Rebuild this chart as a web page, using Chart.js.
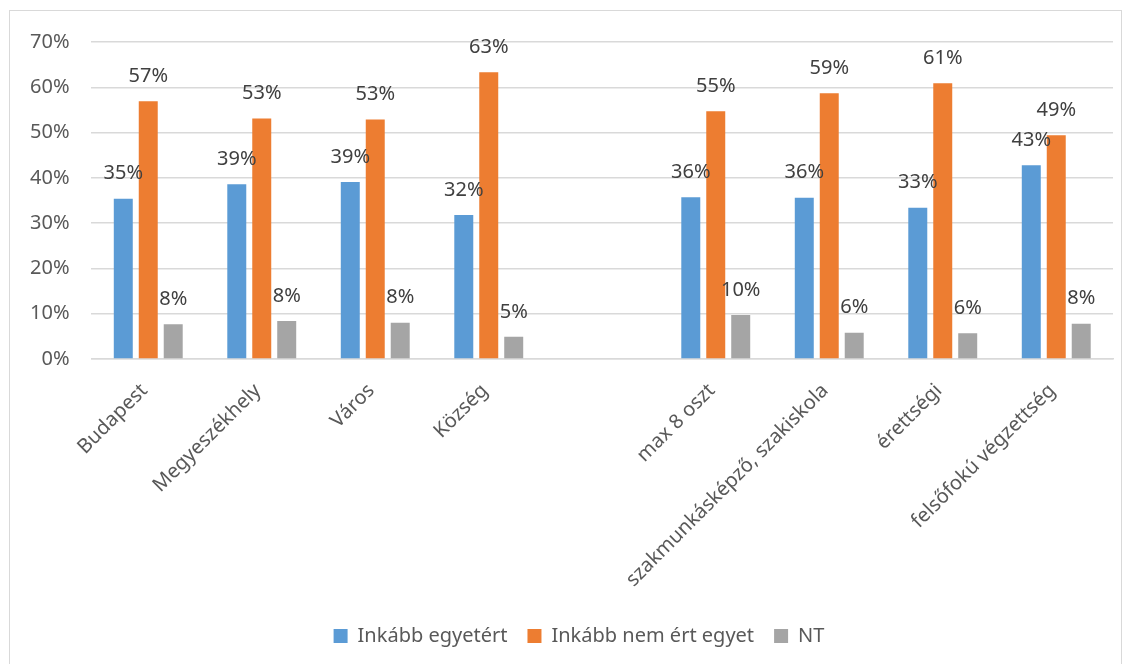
<!DOCTYPE html>
<html>
<head>
<meta charset="utf-8">
<script src="https://cdn.jsdelivr.net/npm/chart.js@4"></script>
<style>
html,body{margin:0;padding:0;background:#fff;}
#wrap{position:relative;width:1130px;height:664px;}
canvas{display:block;}
</style>
</head>
<body>
<div id="wrap"><canvas id="c" width="1130" height="664"></canvas></div>
<script>
const categories = ['Budapest','Megyeszékhely','Város','Község','','max 8 oszt','szakmunkásképző, szakiskola','érettségi','felsőfokú végzettség'];
const seriesNames = ['Inkább egyetért','Inkább nem ért egyet','NT'];
const agree    = [35.4, 38.6, 39.1, 31.8, null, 35.7, 35.6, 33.4, 42.8];
const disagree = [56.9, 53.1, 52.9, 63.3, null, 54.7, 58.7, 60.9, 49.4];
const nt       = [7.7, 8.4, 8.0, 4.9, null, 9.7, 5.8, 5.7, 7.8];
const yTicks = [0,10,20,30,40,50,60,70];
const colors = ['#5b9bd5','#ed7d31','#a5a5a5'];

const FONT = "'Noto Sans', sans-serif";
const LEGEND_CENTER_X = 579;

const framePlugin = {
  id:'frame',
  beforeDraw(chart){
    const ctx = chart.ctx;
    ctx.save();
    ctx.fillStyle='#fff';
    ctx.fillRect(0,0,chart.width,chart.height);
    ctx.strokeStyle='#d9d9d9';
    ctx.lineWidth=1;
    ctx.strokeRect(9.5,10.5,1112,660);
    ctx.restore();
  },
  afterLayout(chart){
    const l = chart.legend;
    if (l){ const d = LEGEND_CENTER_X - (l.left + l.right)/2; l.left += d; l.right += d; }
  }
};

const labelPlugin = {
  id:'vlabels',
  afterDatasetsDraw(chart){
    const ctx = chart.ctx;
    ctx.save();
    ctx.font = "20px " + FONT;
    ctx.fillStyle = '#404040';
    ctx.textAlign = 'center';
    ctx.textBaseline = 'middle';
    chart.data.datasets.forEach((ds, di) => {
      const meta = chart.getDatasetMeta(di);
      meta.data.forEach((el, i) => {
        const v = ds.data[i];
        if (v === null || v === undefined) return;
        ctx.fillText(Math.round(v) + '%', el.x, el.y - 25);
      });
    });
    ctx.restore();
  }
};

new Chart(document.getElementById('c'), {
  type:'bar',
  data:{
    labels: categories,
    datasets:[
      {label:seriesNames[0], data:agree, backgroundColor:colors[0]},
      {label:seriesNames[1], data:disagree, backgroundColor:colors[1]},
      {label:seriesNames[2], data:nt, backgroundColor:colors[2]}
    ]
  },
  options:{
    responsive:false,
    animation:false,
    events:[],
    categoryPercentage:0.66,
    barPercentage:0.76,
    layout:{padding:{top:42,left:8,right:17,bottom:8}},
    scales:{
      x:{
        grid:{display:false},
        border:{display:true,color:'#d9d9d9',width:1.5},
        ticks:{
          font:{family:FONT,size:20},
          color:'#595959',
          minRotation:45,maxRotation:45,
          autoSkip:false,
          padding:12,
          labelOffset:-4
        },
        afterFit(scale){ scale.height = 247; scale.paddingLeft = 0; scale.paddingRight = 0; }
      },
      y:{
        min:0,max:70,
        afterBuildTicks(scale){ scale.ticks = yTicks.map(v=>({value:v})); },
        grid:{color:'#d9d9d9',lineWidth:1.5,drawTicks:false},
        border:{display:false},
        ticks:{
          font:{family:FONT,size:20},
          color:'#595959',
          padding:22,
          callback:(v)=>v+'%'
        }
      }
    },
    plugins:{
      legend:{
        position:'bottom',
        labels:{
          font:{family:FONT,size:20},
          color:'#595959',
          boxWidth:14,boxHeight:14,
          padding:20
        }
      },
      tooltip:{enabled:false}
    }
  },
  plugins:[framePlugin,labelPlugin]
});
</script>
</body>
</html>
